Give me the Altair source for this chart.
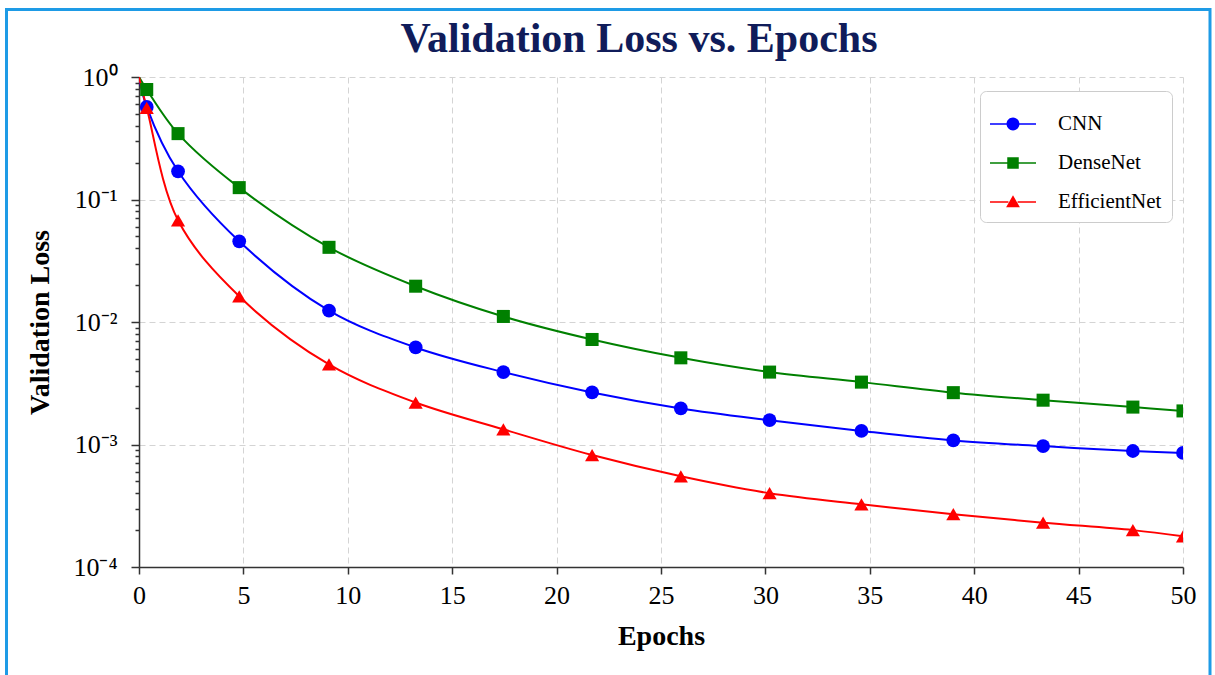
import json
import altair as alt
import pandas as pd

# ---------------- data ----------------
models = ["CNN", "DenseNet", "EfficientNet"]
colors = ["#0000ff", "#008000", "#ff0000"]
marker_shapes = ["circle", "square", "triangle-up"]
marker_sizes = [190, 170, 200]

epochs = [0, 0.37, 1.87, 4.8, 9.1, 13.25, 17.45, 21.7, 25.95, 30.2, 34.6, 39.0, 43.3, 47.6, 50.0]
cnn_loss = [1.0, 0.57, 0.17, 0.0456, 0.0124, 0.0062, 0.0039, 0.00266, 0.00197, 0.00158,
            0.00129, 0.00108, 0.00097, 0.000885, 0.000853]
densenet_loss = [1.0, 0.79, 0.345, 0.125, 0.0407, 0.0196, 0.0111, 0.0072, 0.0051, 0.0039,
                 0.00323, 0.00265, 0.0023, 0.00202, 0.00188]
efficientnet_loss = [1.0, 0.56, 0.0676, 0.0162, 0.0045, 0.0022, 0.00133, 0.00082, 0.00055, 0.0004,
                     0.000325, 0.00027, 0.00023, 0.0002, 0.000178]

x_ticks = [0, 5, 10, 15, 20, 25, 30, 35, 40, 45, 50]
y_ticks_major = [1, 0.1, 0.01, 0.001, 0.0001]
y_tick_labels = ["10⁰", "10⁻¹", "10⁻²", "10⁻³", "10⁻⁴"]
y_ticks_minor = [m * 10.0 ** k for k in range(-4, 0) for m in range(2, 10)]

title_text = "Validation Loss vs. Epochs"
x_title = "Epochs"
y_title = "Validation Loss"

# legend symbols: short line with the marker in the middle (unit coordinates)
legend_paths = [
    "M-1,-0.035 H-0.27 V0.035 H-1 Z M0.27,-0.035 H1 V0.035 H0.27 Z "
    "M-0.28,0 A0.28,0.28 0 1,1 0.28,0 A0.28,0.28 0 1,1 -0.28,0 Z",
    "M-1,-0.035 H-0.25 V0.035 H-1 Z M0.25,-0.035 H1 V0.035 H0.25 Z "
    "M-0.25,-0.25 H0.25 V0.25 H-0.25 Z",
    "M-1,-0.035 H-0.2 V0.035 H-1 Z M0.2,-0.035 H1 V0.035 H0.2 Z "
    "M0,-0.29 L0.3,0.23 L-0.3,0.23 Z",
]

series = {"CNN": cnn_loss, "DenseNet": densenet_loss, "EfficientNet": efficientnet_loss}
rows = []
for m in models:
    for e, v in zip(epochs, series[m]):
        rows.append({"model": m, "epoch": e, "loss": v})
df = pd.DataFrame(rows)

# ---------------- styling ----------------
SERIF = "Liberation Serif"
PLOT_W, PLOT_H = 1044, 490

is_major = "abs(log(datum.value)/LN10 - round(log(datum.value)/LN10)) < 0.001"
label_expr = (
    f"({is_major}) ? {json.dumps(y_tick_labels, ensure_ascii=False)}"
    "[-round(log(datum.value)/LN10)] : ''"
)

x_enc = alt.X(
    "epoch:Q",
    scale=alt.Scale(domain=[0, 50], nice=False, zero=False),
    axis=alt.Axis(
        values=x_ticks, title=x_title, labelFlush=False, tickSize=7,
        labelBaseline="alphabetic", labelPadding=29,
        titleY=77, titleBaseline="alphabetic",
    ),
)
y_enc = alt.Y(
    "loss:Q",
    scale=alt.Scale(type="log", domain=[0.0001, 1], nice=False),
    axis=alt.Axis(
        values=y_ticks_major + y_ticks_minor, title=y_title, labelFlush=False,
        labelExpr=label_expr, labelPadding=14, labelOverlap=False,
        tickSize={"condition": {"test": is_major, "value": 8}, "value": 4},
        gridOpacity={"condition": {"test": is_major, "value": 1}, "value": 0},
        titleX=-91, titleY=PLOT_H / 2, titleBaseline="alphabetic", titleAlign="center",
        titleAngle=270,
    ),
)

base = alt.Chart(df)

layers = []

# legend carrier (invisible points, legend symbols = line + marker)
leg = alt.Legend(
    title=None, orient="none", legendX=841, legendY=14,
    labelFont=SERIF, labelFontSize=21, labelColor="black",
    symbolSize=2116, symbolStrokeWidth=0, symbolOpacity=1,
    labelOffset=22, rowPadding=6, padding=10,
    strokeColor="#cccccc", fillColor="white", cornerRadius=6,
)
carrier = base.mark_point(filled=True, opacity=0).encode(
    x=x_enc, y=y_enc,
    color=alt.Color("model:N", scale=alt.Scale(domain=models, range=colors), legend=leg),
    shape=alt.Shape("model:N", scale=alt.Scale(domain=models, range=legend_paths), legend=leg),
)
layers.append(carrier)

for m, c in zip(models, colors):
    layers.append(
        base.transform_filter(alt.datum.model == m)
        .mark_line(color=c, strokeWidth=2, interpolate="catmull-rom", clip=True)
        .encode(x=x_enc, y=y_enc)
    )
for m, c, s, sz in zip(models, colors, marker_shapes, marker_sizes):
    layers.append(
        base.transform_filter((alt.datum.model == m) & (alt.datum.epoch > 0))
        .mark_point(color=c, filled=True, opacity=1, shape=s, size=sz, clip=True)
        .encode(x=x_enc, y=y_enc)
    )

# decorative blue frame around the whole figure
frame = alt.Chart(pd.DataFrame({"f": [0]})).mark_rect(
    fillOpacity=0, stroke="#1e9be6", strokeWidth=3
).encode(
    x=alt.value(-132.5), x2=alt.value(1071), y=alt.value(-67.5), y2=alt.value(700)
)
layers.append(frame)

chart = (
    alt.layer(*layers)
    .properties(
        width=PLOT_W, height=PLOT_H,
        autosize=alt.AutoSizeParams(type="none"),
        padding={"left": 139, "top": 77, "right": 32, "bottom": 108},
        background="white",
        title=alt.TitleParams(
            title_text, font=SERIF, fontSize=42, fontWeight="bold", color="#101c5a",
            anchor="middle", frame="group", baseline="alphabetic", offset=-86, dx=-22,
        ),
    )
    .configure_view(stroke=None)
    .configure_axis(
        domainColor="#333333", domainWidth=1.5, tickColor="#333333", tickWidth=1.5,
        labelFont=SERIF, labelFontSize=26, labelColor="black",
        titleFont=SERIF, titleFontSize=28, titleFontWeight="bold", titleColor="black",
        gridColor="#d4d4d4", gridDash=[6, 4], gridWidth=1,
    )
)

chart.save("out.html", embed_options={"renderer": "svg", "actions": False})
